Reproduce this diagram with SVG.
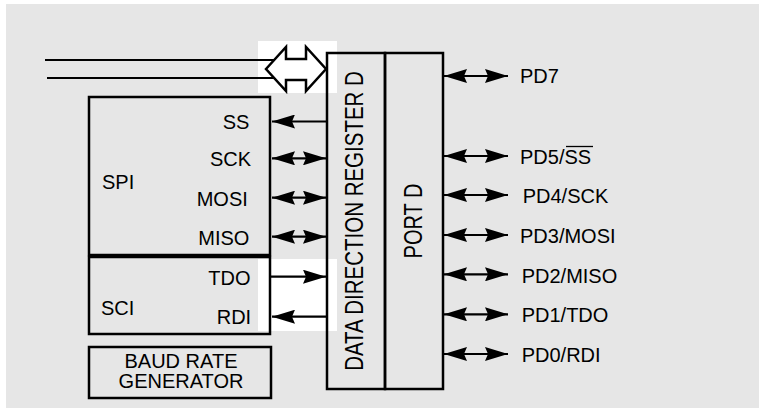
<svg xmlns="http://www.w3.org/2000/svg" width="759" height="408" viewBox="0 0 759 408">
<style>
.box{fill:none;stroke:#000;stroke-width:2.5}
.ln{stroke:#000;stroke-width:2.2;fill:none}
.t{font-family:"Liberation Sans",Arial,sans-serif;font-size:20px;fill:#000}
.tm{font-family:"Liberation Sans",Arial,sans-serif;font-size:20px;fill:#000;text-anchor:middle}
.hl{fill:#fff}
</style>
<defs>
<marker id="ah" markerUnits="userSpaceOnUse" markerWidth="24" markerHeight="14" refX="23" refY="7" orient="auto-start-reverse" viewBox="0 0 24 14">
<path d="M0,0 L23,7 L0,14 L3,7 z" fill="#000"/>
</marker>
</defs>
<rect x="6" y="4" width="753" height="404" fill="#e6e6e6"/>
<rect class="hl" x="258" y="41" width="79" height="52"/>
<rect class="hl" x="258" y="259" width="79" height="72"/>
<g id="bus">
<line class="ln" x1="45" y1="60" x2="274" y2="60"/>
<line class="ln" x1="47" y1="78" x2="274" y2="78"/>
<polygon points="266,69 286,47 286,59 306,59 306,47 326,69 306,91 306,80 286,80 286,91" fill="#fff" stroke="#000" stroke-width="2.5" stroke-linejoin="miter"/>
</g>
<g id="spi">
<rect class="box" x="89" y="97" width="181" height="158"/>
<text class="t" x="102" y="189">SPI</text>
<text class="t" x="222.7" y="129">SS</text>
<text class="t" x="210" y="166">SCK</text>
<text class="t" x="196.7" y="205.7">MOSI</text>
<text class="t" x="198.3" y="245">MISO</text>
</g>
<g id="sci">
<rect class="box" x="89" y="257" width="181" height="77"/>
<text class="t" x="101" y="315">SCI</text>
<text class="t" x="208.3" y="285">TDO</text>
<text class="t" x="216.7" y="324">RDI</text>
</g>
<g id="baud">
<rect class="box" x="89" y="347" width="182" height="51"/>
<text class="tm" x="181" y="368.3">BAUD RATE</text>
<text class="tm" x="181" y="388.3">GENERATOR</text>
</g>
<g id="ddr">
<rect class="box" x="327" y="53" width="58" height="336"/>
<text class="tm" transform="translate(354,221) rotate(-90) scale(1,1.25)" x="0" y="7.2" style="font-size:20.5px">DATA DIRECTION REGISTER D</text>
</g>
<g id="portd">
<rect class="box" x="385" y="53" width="58" height="336"/>
<text class="tm" transform="translate(412.5,221) rotate(-90) scale(1,1.25)" x="0" y="7.2">PORT D</text>
</g>
<g id="connectors">
<line class="ln" x1="327" y1="121.5" x2="272" y2="121.5" marker-end="url(#ah)"/>
<line class="ln" x1="272" y1="158.3" x2="326" y2="158.3" marker-start="url(#ah)" marker-end="url(#ah)"/>
<line class="ln" x1="272" y1="197.7" x2="326" y2="197.7" marker-start="url(#ah)" marker-end="url(#ah)"/>
<line class="ln" x1="272" y1="236.7" x2="326" y2="236.7" marker-start="url(#ah)" marker-end="url(#ah)"/>
<line class="ln" x1="270" y1="276.7" x2="326" y2="276.7" marker-end="url(#ah)"/>
<line class="ln" x1="327" y1="316.7" x2="272" y2="316.7" marker-end="url(#ah)"/>
<line class="ln" x1="444" y1="76" x2="508" y2="76" marker-start="url(#ah)" marker-end="url(#ah)"/>
<line class="ln" x1="444" y1="156" x2="508" y2="156" marker-start="url(#ah)" marker-end="url(#ah)"/>
<line class="ln" x1="444" y1="195" x2="508" y2="195" marker-start="url(#ah)" marker-end="url(#ah)"/>
<line class="ln" x1="444" y1="235" x2="508" y2="235" marker-start="url(#ah)" marker-end="url(#ah)"/>
<line class="ln" x1="444" y1="274.3" x2="508" y2="274.3" marker-start="url(#ah)" marker-end="url(#ah)"/>
<line class="ln" x1="444" y1="314.3" x2="508" y2="314.3" marker-start="url(#ah)" marker-end="url(#ah)"/>
<line class="ln" x1="444" y1="354" x2="508" y2="354" marker-start="url(#ah)" marker-end="url(#ah)"/>
</g>
<g id="pins">
<text class="t" x="520" y="83.3">PD7</text>
<text class="t" x="520" y="164">PD5/SS</text>
<line x1="566" y1="146.5" x2="593" y2="146.5" stroke="#000" stroke-width="1.3"/>
<text class="t" x="522.7" y="203.3">PD4/SCK</text>
<text class="t" x="520" y="243.3">PD3/MOSI</text>
<text class="t" x="521.7" y="282.7">PD2/MISO</text>
<text class="t" x="521.7" y="321.7">PD1/TDO</text>
<text class="t" x="521.7" y="361.7">PD0/RDI</text>
</g>
</svg>
